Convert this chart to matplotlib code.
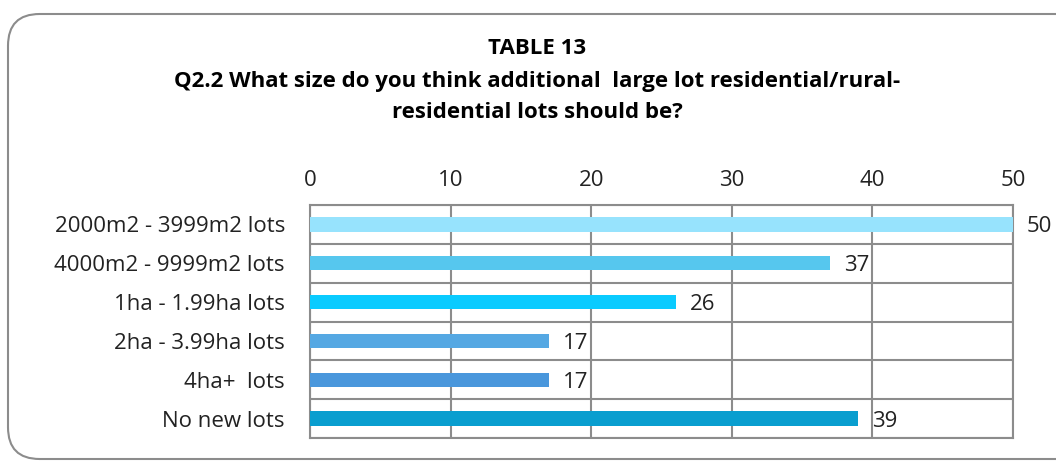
import matplotlib.pyplot as plt
from matplotlib.patches import FancyBboxPatch

# data
categories = ["2000m2 - 3999m2 lots", "4000m2 - 9999m2 lots", "1ha - 1.99ha lots",
              "2ha - 3.99ha lots", "4ha+  lots", "No new lots"]
values = [50, 37, 26, 17, 17, 39]
bar_colors = ["#97E3FD", "#56C7EE", "#0ACBFF", "#55A8E3", "#4A97DC", "#099ECF"]
xticks = [0, 10, 20, 30, 40, 50]

plt.rcParams['font.family'] = ['Open Sans', 'DejaVu Sans']

fig = plt.figure(figsize=(10.56, 4.61), dpi=100)

# rounded frame round the chart
frame = FancyBboxPatch((8 / 1056, 1 - 459 / 461), 1.2, 445 / 461,
                       boxstyle="round,pad=0,rounding_size=0.03",
                       transform=fig.transFigure, facecolor="white",
                       edgecolor="#8C8C8C", linewidth=1.5, mutation_aspect=2.3,
                       zorder=-1)
fig.patches.append(frame)

fig.text(0.509, 1 - 48 / 461, "TABLE 13", ha="center", va="center",
         fontsize=16, fontweight="bold")
fig.text(0.509, 1 - 81 / 461, "Q2.2 What size do you think additional  large lot residential/rural-",
         ha="center", va="center", fontsize=16, fontweight="bold")
fig.text(0.509, 1 - 113 / 461, "residential lots should be?",
         ha="center", va="center", fontsize=16, fontweight="bold")

ax = fig.add_axes([310 / 1056, 1 - 438 / 461, 703 / 1056, 233 / 461])
ax.patch.set_alpha(0)
y = list(range(len(categories)))
ax.barh(y, values, height=0.37, color=bar_colors, zorder=3)

for yi, v in zip(y, values):
    ax.text(v + 1.0, yi, str(v), va="center_baseline", ha="left", fontsize=16,
            color="#222222", zorder=4, clip_on=False)

ax.set_xlim(0, 50)
ax.set_ylim(len(categories) - 0.5, -0.5)
ax.set_xticks(xticks)
ax.xaxis.tick_top()
ax.set_yticks(y)
ax.set_yticklabels(categories)
ax.set_yticks([i - 0.5 for i in range(len(categories) + 1)], minor=True)
ax.tick_params(axis="both", which="both", length=0, labelsize=16, colors="#222222")
ax.tick_params(axis="x", pad=10)
ax.tick_params(axis="y", pad=18)
ax.grid(True, axis="x", which="major", color="#8C8C8C", linewidth=1.5, zorder=1)
ax.grid(True, axis="y", which="minor", color="#8C8C8C", linewidth=1.5, zorder=1)
for s in ax.spines.values():
    s.set_color("#8C8C8C")
    s.set_linewidth(1.5)

fig.savefig("out.png", dpi=100)
